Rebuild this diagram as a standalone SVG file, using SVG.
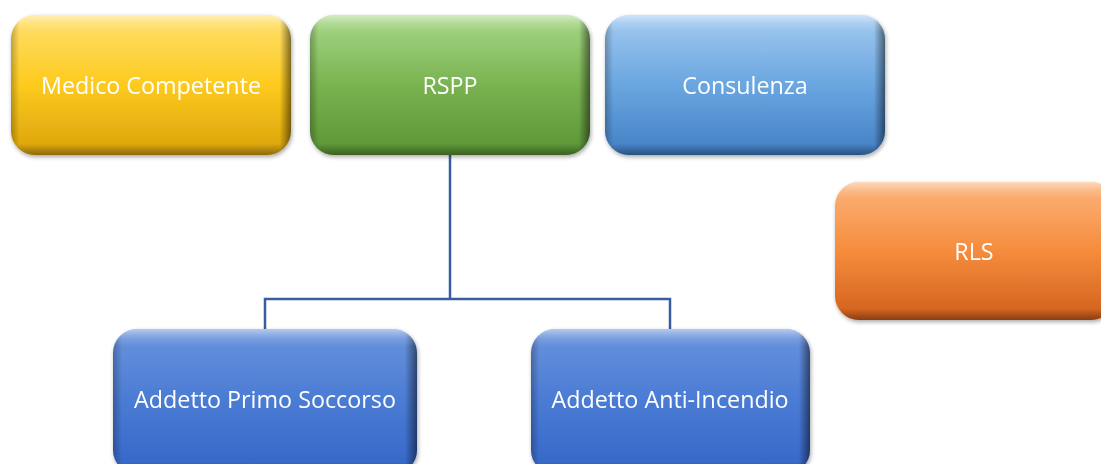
<svg xmlns="http://www.w3.org/2000/svg" width="1101" height="464" viewBox="0 0 1101 464">
<defs>
<linearGradient id="gY" x1="0" y1="0" x2="0" y2="1"><stop offset="0" stop-color="#ffe070"/><stop offset="0.5" stop-color="#fdca1e"/><stop offset="1" stop-color="#d9a20a"/></linearGradient>
<linearGradient id="gG" x1="0" y1="0" x2="0" y2="1"><stop offset="0" stop-color="#a9d88a"/><stop offset="0.5" stop-color="#79b350"/><stop offset="1" stop-color="#5a9435"/></linearGradient>
<linearGradient id="gL" x1="0" y1="0" x2="0" y2="1"><stop offset="0" stop-color="#a3caf0"/><stop offset="0.5" stop-color="#6aa6e0"/><stop offset="1" stop-color="#427fc4"/></linearGradient>
<linearGradient id="gO" x1="0" y1="0" x2="0" y2="1"><stop offset="0" stop-color="#fbb47c"/><stop offset="0.5" stop-color="#f68c3c"/><stop offset="1" stop-color="#cf5f1c"/></linearGradient>
<linearGradient id="gB" x1="0" y1="0" x2="0" y2="1"><stop offset="0" stop-color="#6a93dc"/><stop offset="0.5" stop-color="#4a7bd4"/><stop offset="1" stop-color="#3466c8"/></linearGradient>
<linearGradient id="edge" x1="0" y1="0" x2="1" y2="0"><stop offset="0" stop-color="#000" stop-opacity="0.25"/><stop offset="0.03" stop-color="#000" stop-opacity="0"/><stop offset="0.96" stop-color="#000" stop-opacity="0"/><stop offset="1" stop-color="#000" stop-opacity="0.5"/></linearGradient>
<linearGradient id="edgeV" x1="0" y1="0" x2="0" y2="1"><stop offset="0" stop-color="#fff" stop-opacity="0.5"/><stop offset="0.06" stop-color="#fff" stop-opacity="0.15"/><stop offset="0.12" stop-color="#fff" stop-opacity="0"/><stop offset="0.92" stop-color="#000" stop-opacity="0"/><stop offset="1" stop-color="#000" stop-opacity="0.35"/></linearGradient>
<filter id="sh" x="-5%" y="-5%" width="112%" height="115%"><feGaussianBlur in="SourceAlpha" stdDeviation="2"/><feOffset dx="1" dy="2"/><feComponentTransfer><feFuncA type="linear" slope="0.35"/></feComponentTransfer><feMerge><feMergeNode/><feMergeNode in="SourceGraphic"/></feMerge></filter>
</defs>
<style>
.lbl{font-family:"Open Sans","Liberation Sans",sans-serif;font-size:23.3px;fill:#ffffff;text-anchor:middle;dominant-baseline:central}
.ov{fill:url(#edge)}
.ov2{fill:url(#edgeV)}
.conn{fill:none;stroke:#3a5ca0;stroke-width:2.5}
</style>
<g id="connectors">
<path class="conn" d="M450,155 V299 M265,329 V299 H670 V329"/>
</g>
<g id="medico" filter="url(#sh)">
<rect x="11" y="15" width="280" height="140" rx="24" fill="url(#gY)"/>
<rect x="11" y="15" width="280" height="140" rx="24" class="ov"/>
<rect x="11" y="15" width="280" height="140" rx="24" class="ov2"/>
<text class="lbl" x="151" y="85">Medico Competente</text>
</g>
<g id="rspp" filter="url(#sh)">
<rect x="310" y="15" width="280" height="140" rx="24" fill="url(#gG)"/>
<rect x="310" y="15" width="280" height="140" rx="24" class="ov"/>
<rect x="310" y="15" width="280" height="140" rx="24" class="ov2"/>
<text class="lbl" x="450" y="85">RSPP</text>
</g>
<g id="consulenza" filter="url(#sh)">
<rect x="605" y="15" width="280" height="140" rx="24" fill="url(#gL)"/>
<rect x="605" y="15" width="280" height="140" rx="24" class="ov"/>
<rect x="605" y="15" width="280" height="140" rx="24" class="ov2"/>
<text class="lbl" x="745" y="85">Consulenza</text>
</g>
<g id="rls" filter="url(#sh)">
<rect x="835" y="182" width="280" height="138" rx="24" fill="url(#gO)"/>
<rect x="835" y="182" width="280" height="138" rx="24" class="ov2"/>
<text class="lbl" x="974" y="251">RLS</text>
</g>
<g id="primo" filter="url(#sh)">
<rect x="113" y="329" width="304" height="145" rx="24" fill="url(#gB)"/>
<rect x="113" y="329" width="304" height="145" rx="24" class="ov"/>
<rect x="113" y="329" width="304" height="145" rx="24" class="ov2"/>
<text class="lbl" x="265" y="399">Addetto Primo Soccorso</text>
</g>
<g id="antincendio" filter="url(#sh)">
<rect x="531" y="329" width="279" height="145" rx="24" fill="url(#gB)"/>
<rect x="531" y="329" width="279" height="145" rx="24" class="ov"/>
<rect x="531" y="329" width="279" height="145" rx="24" class="ov2"/>
<text class="lbl" x="670" y="399">Addetto Anti-Incendio</text>
</g>
</svg>
